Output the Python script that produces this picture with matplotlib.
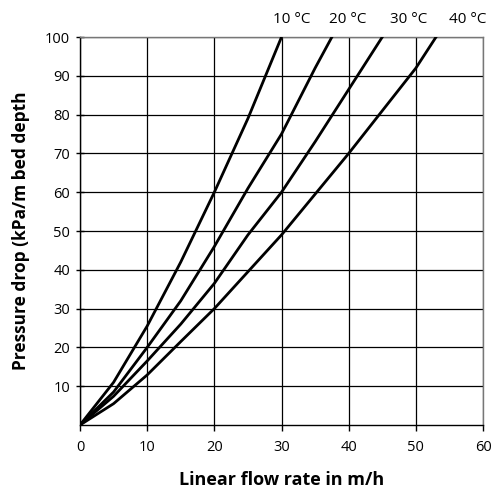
import numpy as np
import matplotlib.pyplot as plt

plt.rcParams['font.family'] = ['Open Sans', 'DejaVu Sans']

# flow rate (m/h) vs pressure drop (kPa/m bed depth) per temperature
x_10 = [0, 5, 10, 15, 20, 25, 30]
y_10 = [0, 11, 25.5, 42, 60, 79, 100]

x_20 = [0, 5, 10, 15, 20, 25, 30, 35, 37.5]
y_20 = [0, 8.5, 20, 32, 46, 61, 75, 92, 100]

x_30 = [0, 5, 10, 15, 20, 25, 30, 35, 40, 45]
y_30 = [0, 7.4, 16.5, 26, 36.5, 49, 60, 73, 86.5, 100]

x_40 = [0, 5, 10, 15, 20, 25, 30, 35, 40, 45, 50, 53]
y_40 = [0, 5.5, 12.9, 21.5, 30, 39.5, 49, 59.5, 70, 81, 92, 100]

temp_labels = ['10 °C', '20 °C', '30 °C', '40 °C']
temp_label_x = [31.5, 39.8, 48.9, 57.7]

fig = plt.figure(figsize=(4.98, 4.91), dpi=100)
ax = fig.add_axes([0.1606, 0.1344, 0.8094, 0.7902])

for xs, ys in [(x_10, y_10), (x_20, y_20), (x_30, y_30), (x_40, y_40)]:
	ax.plot(xs, ys, color='black', lw=2.0, solid_joinstyle='miter', zorder=3)

ax.set_xlim(0, 60)
ax.set_ylim(0, 100)
ax.set_xticks(np.arange(0, 61, 10))
ax.set_yticks(np.arange(10, 101, 10))
ax.grid(True, color='black', lw=0.9)
ax.set_axisbelow(True)

for s in ['top', 'right']:
	ax.spines[s].set_color('#777777')
	ax.spines[s].set_linewidth(1.0)
for s in ['left', 'bottom']:
	ax.spines[s].set_color('black')
	ax.spines[s].set_linewidth(1.0)

ax.tick_params(axis='x', direction='out', length=4, width=1, labelsize=10.5, pad=7)
ax.tick_params(axis='y', direction='inout', length=6, width=1, labelsize=10.5, pad=4)

for lab, tx in zip(temp_labels, temp_label_x):
	ax.text(tx, 104.5, lab, ha='center', va='center', fontsize=11, clip_on=False)

ax.set_xlabel('Linear flow rate in m/h', fontsize=13, fontweight='bold', labelpad=11)
ax.set_ylabel('Pressure drop (kPa/m bed depth', fontsize=12.5, fontweight='bold', labelpad=11)

fig.savefig('out.png', dpi=100)
